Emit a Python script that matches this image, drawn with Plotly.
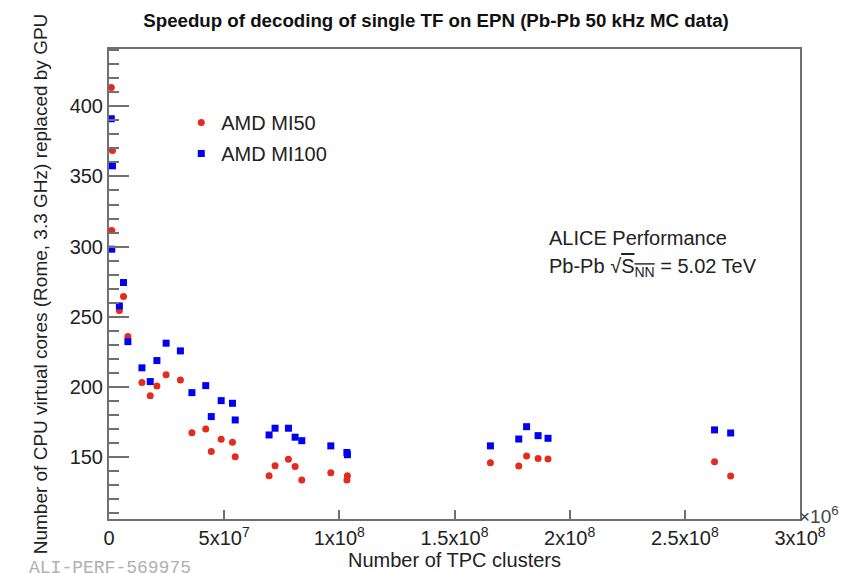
import plotly.graph_objects as go

# TPC clusters per TF (one x per measurement, shared by both GPUs)
n_clusters = [1.0e6, 1.5e6, 1.2e6, 4.5e6, 6.3e6, 8.2e6, 14.3e6, 17.9e6, 20.8e6,
              24.8e6, 31.0e6, 36.0e6, 42.0e6, 44.4e6, 48.7e6, 53.6e6, 54.8e6,
              69.5e6, 72.1e6, 77.9e6, 80.8e6, 83.7e6, 96.3e6, 103.5e6, 103.3e6,
              165.6e6, 177.9e6, 181.3e6, 186.3e6, 190.6e6, 262.9e6, 269.9e6]

# CPU virtual cores replaced by one GPU
mi50 = [413.6, 368.6, 311.4, 254.3, 264.3, 235.7, 202.9, 193.4, 200.5,
        208.4, 204.8, 167.1, 169.8, 153.6, 162.4, 160.3, 150.0,
        136.4, 143.5, 148.2, 142.9, 133.4, 138.6, 136.4, 133.4,
        145.7, 143.4, 150.5, 148.6, 148.4, 146.4, 136.2]
mi100 = [391.2, 357.6, 298.1, 257.6, 274.3, 232.1, 213.4, 203.6, 218.6,
         231.0, 225.5, 195.7, 200.7, 178.6, 190.0, 188.1, 176.2,
         165.5, 170.3, 170.3, 163.9, 161.4, 157.7, 151.4, 153.0,
         157.7, 162.6, 171.4, 165.0, 163.1, 169.1, 166.9]

x_ticks = [0, 5e7, 1e8, 1.5e8, 2e8, 2.5e8, 3e8]
x_ticktext = ["0", "5x10<sup>7</sup>", "1x10<sup>8</sup>", "1.5x10<sup>8</sup>",
              "2x10<sup>8</sup>", "2.5x10<sup>8</sup>", "3x10<sup>8</sup>"]

title_text = "<b>Speedup of decoding of single TF on EPN (Pb-Pb 50 kHz MC data)</b>"
x_title = "Number of TPC clusters"
y_title = "Number of CPU virtual cores (Rome, 3.3 GHz) replaced by GPU"

axis_col = "#707070"
text_col = "#222222"
font_name = "Liberation Sans"

# the page body keeps its default 8px margin, so the figure is 8px smaller
W, H = 841, 565

fig = go.Figure()
fig.add_trace(go.Scatter(x=n_clusters, y=mi50, mode="markers", name="AMD MI50",
                         legendgroup="a",
                         marker=dict(symbol="circle", size=7, color="#e32b1f")))
fig.add_trace(go.Scatter(x=n_clusters, y=mi100, mode="markers", name="AMD MI100",
                         legendgroup="b",
                         marker=dict(symbol="square", size=7, color="#0000f5")))

fig.update_xaxes(range=[0, 3e8], tickmode="array", tickvals=x_ticks, ticktext=x_ticktext,
                 ticks="inside", ticklen=9, tickwidth=1.5, tickcolor=axis_col,
                 showline=True, mirror=True, linecolor=axis_col, linewidth=2,
                 showgrid=False, zeroline=False, automargin=False,
                 tickfont=dict(size=20, color=text_col),
                 title=dict(text=x_title, font=dict(size=20, color=text_col), standoff=0))
fig.update_yaxes(range=[105.5, 441], tickmode="linear", tick0=0, dtick=50,
                 ticks="inside", ticklen=20, tickwidth=1.5, tickcolor=axis_col,
                 minor=dict(dtick=10, tick0=0, ticks="inside", ticklen=10,
                            tickwidth=1.5, tickcolor=axis_col),
                 showline=True, mirror=True, linecolor=axis_col, linewidth=2,
                 showgrid=False, zeroline=False, automargin=False,
                 tickfont=dict(size=20, color=text_col),
                 title=dict(text=y_title, font=dict(size=19, color=text_col), standoff=17))

fig.add_annotation(text="ALICE Performance", x=0.634, y=0.597, xref="paper", yref="paper",
                   xanchor="left", yanchor="middle", showarrow=False,
                   font=dict(size=20, color=text_col))
fig.add_annotation(text="Pb-Pb √<span style='text-decoration:overline'>S<sub>NN</sub></span> = 5.02 TeV",
                   x=0.634, y=0.536, xref="paper", yref="paper",
                   xanchor="left", yanchor="middle", showarrow=False,
                   font=dict(size=20, color=text_col))
fig.add_annotation(text="×10<sup>6</sup>", x=0.996, y=0.008, xref="paper", yref="paper",
                   xanchor="left", yanchor="middle", showarrow=False,
                   font=dict(size=19, color="#444444"))
fig.add_annotation(text="ALI-PERF-569975", x=-0.118, y=-0.1047, xref="paper", yref="paper",
                   xanchor="left", yanchor="middle", showarrow=False,
                   font=dict(family="Liberation Mono", size=18, color="#b0b0b0"))

fig.update_layout(
    width=W, height=H,
    margin=dict(l=101, r=49, t=41, b=54),
    paper_bgcolor="white", plot_bgcolor="white",
    font=dict(family=font_name, size=20, color=text_col),
    title=dict(text=title_text, x=0.509, xanchor="center", y=1 - 12 / H, yanchor="middle",
               font=dict(size=18.7, color="#111111")),
    showlegend=True,
    legend=dict(x=0.1046, y=0.885, xanchor="left", yanchor="top",
                traceorder="grouped", tracegroupgap=2,
                font=dict(size=20, color=text_col), bgcolor="rgba(0,0,0,0)"),
)

fig.write_html("out.html")
